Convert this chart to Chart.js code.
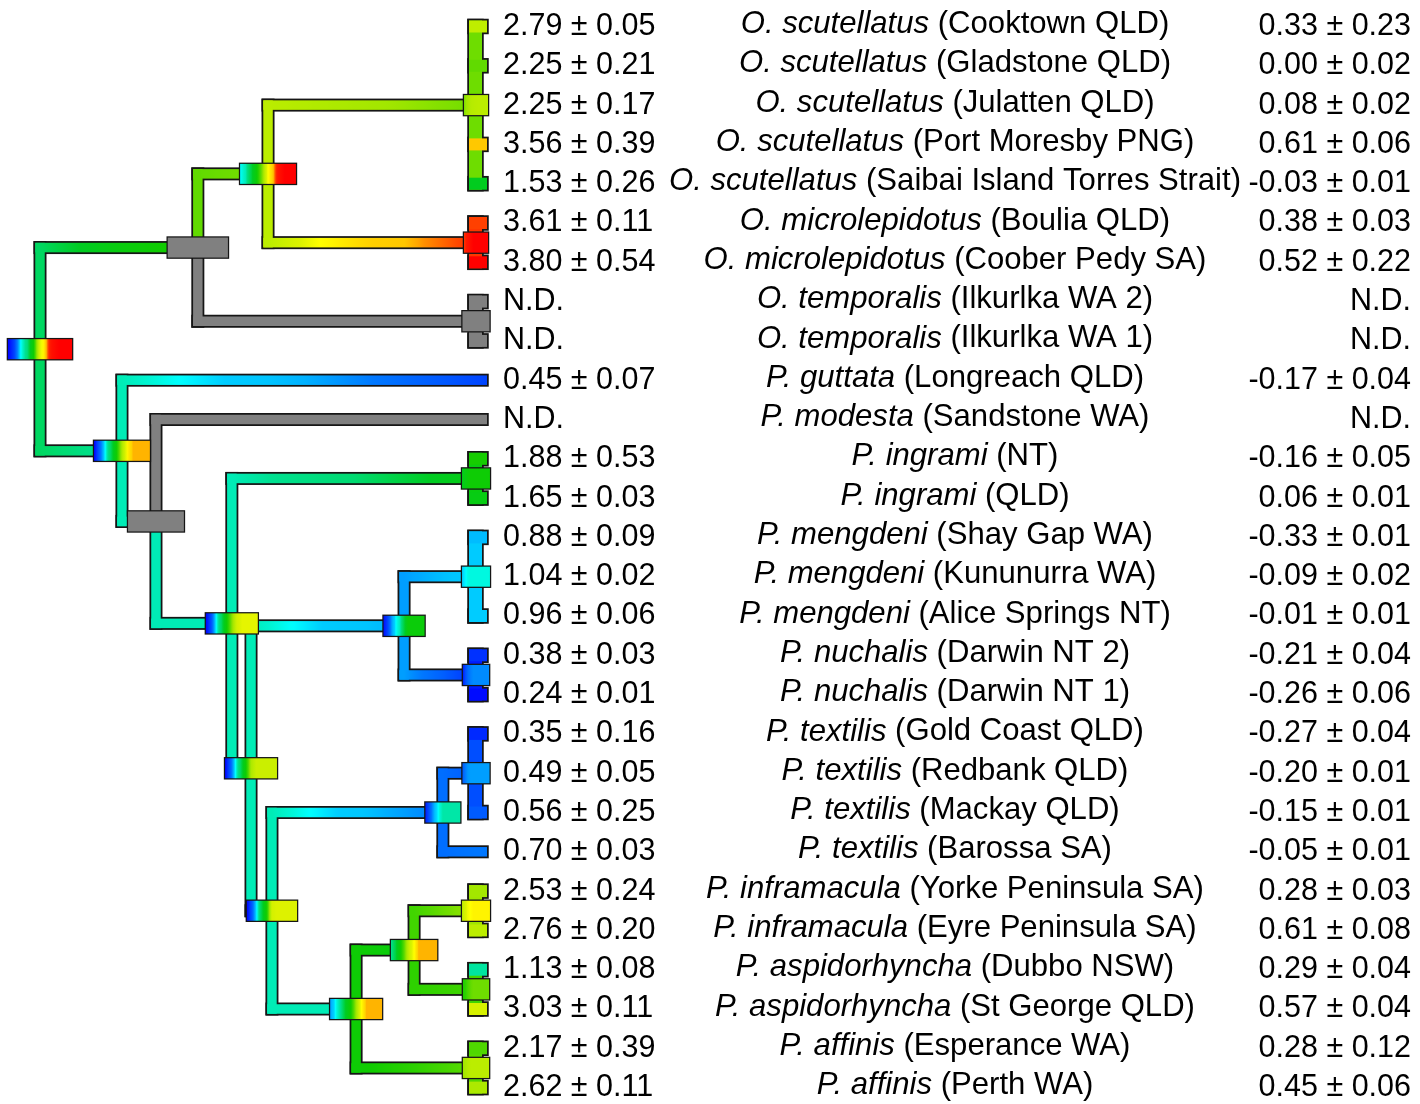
<!DOCTYPE html>
<html>
<head>
<meta charset="utf-8">
<title>Ancestral state tree</title>
<script src="https://cdn.jsdelivr.net/npm/chart.js@4"></script>
<style>
  html, body { margin: 0; padding: 0; background: #fff; }
  #wrap { width: 1420px; height: 1104px; }
</style>
</head>
<body>
<div id="wrap"><canvas id="treeChart" width="1420" height="1104"></canvas></div>
<script>

// DATA (one entry per row, top to bottom)

const species = [
    "O. scutellatus", "O. scutellatus", "O. scutellatus", "O. scutellatus", "O. scutellatus",
    "O. microlepidotus", "O. microlepidotus", "O. temporalis", "O. temporalis",
    "P. guttata", "P. modesta", "P. ingrami", "P. ingrami",
    "P. mengdeni", "P. mengdeni", "P. mengdeni", "P. nuchalis", "P. nuchalis",
    "P. textilis", "P. textilis", "P. textilis", "P. textilis",
    "P. inframacula", "P. inframacula", "P. aspidorhyncha", "P. aspidorhyncha",
    "P. affinis", "P. affinis"
];
const localities = [
    "Cooktown QLD", "Gladstone QLD", "Julatten QLD", "Port Moresby PNG", "Saibai Island Torres Strait",
    "Boulia QLD", "Coober Pedy SA", "Ilkurlka WA 2", "Ilkurlka WA 1",
    "Longreach QLD", "Sandstone WA", "NT", "QLD",
    "Shay Gap WA", "Kununurra WA", "Alice Springs NT", "Darwin NT 2", "Darwin NT 1",
    "Gold Coast QLD", "Redbank QLD", "Mackay QLD", "Barossa SA",
    "Yorke Peninsula SA", "Eyre Peninsula SA", "Dubbo NSW", "St George QLD",
    "Esperance WA", "Perth WA"
];
const traitMean = [2.79, 2.25, 2.25, 3.56, 1.53, 3.61, 3.80, null, null, 0.45, null, 1.88, 1.65,
    0.88, 1.04, 0.96, 0.38, 0.24, 0.35, 0.49, 0.56, 0.70, 2.53, 2.76, 1.13, 3.03, 2.17, 2.62];
const traitSE = [0.05, 0.21, 0.17, 0.39, 0.26, 0.11, 0.54, null, null, 0.07, null, 0.53, 0.03,
    0.09, 0.02, 0.06, 0.03, 0.01, 0.16, 0.05, 0.25, 0.03, 0.24, 0.20, 0.08, 0.11, 0.39, 0.11];
const otherMean = [0.33, 0.00, 0.08, 0.61, -0.03, 0.38, 0.52, null, null, -0.17, null, -0.16, 0.06,
    -0.33, -0.09, -0.01, -0.21, -0.26, -0.27, -0.20, -0.15, -0.05, 0.28, 0.61, 0.29, 0.57, 0.28, 0.45];
const otherSE = [0.23, 0.02, 0.02, 0.06, 0.01, 0.03, 0.22, null, null, 0.04, null, 0.05, 0.01,
    0.01, 0.02, 0.01, 0.04, 0.06, 0.04, 0.01, 0.01, 0.01, 0.03, 0.08, 0.04, 0.04, 0.12, 0.06];


// TREE (index = node; root first)
// 0 root, 1 Oxyuranus, 2 scut+micro, 3 scut, 4 micro, 5 temp, 6 Pseudechis, 7 guttata,
// 8 rest, 9 modesta, 10 A, 11 ingrami, 12 C, 13 meng+nuch, 14 meng, 15 nuch,
// 16 D, 17 textilis grp, 18 textilis, 19 Barossa, 20 southern, 21 infra+aspid,
// 22 infra, 23 aspid, 24 affinis

const nodeParent = [-1, 0, 1, 2, 2, 1, 0, 6, 6, 8, 8, 10, 10, 12, 13, 13, 12, 16, 17, 17, 16, 20, 21, 21, 20];
const nodeDepth = [0, 0.362, 0.523, 1, 1, 1, 0.188, 1, 0.266, 1, 0.440, 1, 0.484, 0.835, 1, 1,
    0.532, 0.924, 1, 1, 0.725, 0.858, 1, 1, 1];
const nodeTipFirst = [null, null, null, 0, 5, 7, null, 9, null, 10, null, 11, null, null, 13, 16,
    null, null, 18, 21, null, null, 22, 24, 26];
const nodeTipLast = [null, null, null, 4, 6, 8, null, 9, null, 10, null, 12, null, null, 15, 17,
    null, null, 20, 21, null, null, 23, 25, 27];
// width of the node interval, in depth units (null = no box)
const nodeSpan = [0.147, 0.138, 0.128, 0.055, 0.055, 0.062, 0.128, null, 0.128, null, 0.119, 0.064,
    0.119, 0.094, 0.064, 0.06, 0.115, 0.080, 0.062, null, 0.119, 0.106, 0.064, 0.06, 0.06];
// sorted posterior samples of the node state (null = not determined)
const nodeQuantiles = [
    [0.2, 0.45, 1.02, 1.2, 1.8, 3.1, 3.57, 3.72, 3.8, 3.8, 3.8],
    null,
    [1.02, 1.1, 1.4, 1.8, 2.4, 3.3, 3.57, 3.7, 3.8, 3.8, 3.8],
    [2.35, 2.5, 2.6, 2.7, 2.72, 2.74, 2.75, 2.75, 2.75, 2.75, 2.75],
    [3.62, 3.65, 3.7, 3.75, 3.8, 3.8, 3.8, 3.8, 3.8, 3.8, 3.8],
    null,
    [0.2, 0.6, 1.02, 1.3, 1.8, 2.6, 3.35, 3.57, 3.57, 3.57, 3.57],
    null,
    null,
    null,
    [0.2, 0.5, 1.02, 1.3, 1.8, 2.4, 3.0, 3.15, 3.15, 3.15, 3.15],
    [1.55, 1.65, 1.75, 1.8, 1.8, 1.8, 1.8, 1.8, 1.8, 1.8, 1.8],
    [0.2, 0.55, 1.02, 1.3, 1.8, 2.6, 2.9, 2.9, 2.9, 2.9, 2.9],
    [0.25, 0.45, 0.8, 1.02, 1.1, 1.4, 1.75, 1.75, 1.75, 1.75, 1.75],
    [0.96, 1.0, 1.04, 1.05, 1.05, 1.05, 1.05, 1.05, 1.05, 1.05, 1.05],
    [0.3, 0.5, 0.65, 0.72, 0.75, 0.75, 0.75, 0.75, 0.75, 0.75, 0.75],
    [0.2, 0.55, 1.02, 1.4, 1.9, 3.0, 3.1, 3.1, 3.1, 3.1, 3.1],
    [0.3, 0.5, 0.75, 0.95, 1.05, 1.12, 1.12, 1.12, 1.12, 1.12, 1.12],
    [0.55, 0.7, 0.78, 0.8, 0.8, 0.8, 0.8, 0.8, 0.8, 0.8, 0.8],
    null,
    [0.8, 1.02, 1.15, 1.5, 1.85, 2.5, 3.3, 3.57, 3.57, 3.57, 3.57],
    [1.15, 1.4, 1.8, 2.3, 2.9, 3.3, 3.57, 3.57, 3.57, 3.57, 3.57],
    [2.8, 3.0, 3.2, 3.3, 3.35, 3.35, 3.35, 3.35, 3.35, 3.35, 3.35],
    [1.9, 2.0, 2.15, 2.25, 2.3, 2.3, 2.3, 2.3, 2.3, 2.3, 2.3],
    [2.5, 2.6, 2.7, 2.75, 2.75, 2.75, 2.75, 2.75, 2.75, 2.75, 2.75]
];
// state along the branch leading to each node, evenly spaced from start to end
const branchValues = [
    null, [1.3, 1.7, 1.95], [2.25, 2.3, 2.35], [2.75, 2.55, 2.3], [2.75, 3.3, 3.52, 3.585, 3.62], null,
    [1.3, 1.2, 1.12], [1.1, 0.85, 0.45], [1.1, 1.1, 1.1], null, [1.1, 1.1, 1.1], [1.1, 1.25, 1.65],
    [1.1, 1.1, 1.1], [1.1, 0.95, 0.85], [0.8, 0.88, 0.95], [0.8, 0.6, 0.35],
    [1.1, 1.1, 1.1], [1.1, 0.92, 0.7], [0.65, 0.6, 0.55], [0.65, 0.68, 0.7],
    [1.1, 1.1, 1.1], [1.8, 1.75, 1.7], [2.1, 2.3, 2.5], [2.0, 2.05, 2.1], [1.8, 2.0, 2.25]
];
// state shown on the bar joining the populations of a clade
const cladeBarValue = [null, null, null, 2.3, 3.62, null, null, null, null, null, null, 1.7,
    null, null, 0.95, 0.3, null, null, 0.5, null, null, null, 2.5, 2.1, 2.2];

// colour scale
const scaleValues = [0.20, 0.45, 0.70, 0.90, 0.96, 1.02, 1.06, 1.15, 1.50, 1.85, 2.20, 2.50,
    2.80, 3.10, 3.30, 3.45, 3.56, 3.58, 3.61, 3.65, 3.80];
const scaleColors = ["#0000ff", "#0044ff", "#0078ff", "#00c4ff", "#00ccff", "#00ffff", "#00f5d5",
    "#00e090", "#00cc22", "#10cc00", "#55d800", "#a0e600", "#c0ee00", "#ddf200", "#ffff00",
    "#ffdd00", "#ffc800", "#ffa000", "#ff4000", "#ff1800", "#ff0000"];
const GREY = "#808080";


// COLOUR HELPERS

function hexToRgb(h) {
    return [parseInt(h.slice(1, 3), 16), parseInt(h.slice(3, 5), 16), parseInt(h.slice(5, 7), 16)];
}

function colourFor(v) {
    if (v === null || v === undefined) return GREY;
    if (v <= scaleValues[0]) return scaleColors[0];
    for (let i = 1; i < scaleValues.length; i++) {
        if (v <= scaleValues[i]) {
            const f = (v - scaleValues[i - 1]) / (scaleValues[i] - scaleValues[i - 1]);
            const a = hexToRgb(scaleColors[i - 1]);
            const b = hexToRgb(scaleColors[i]);
            const c = a.map((x, k) => Math.round(x + (b[k] - x) * f));
            return `rgb(${c[0]},${c[1]},${c[2]})`;
        }
    }
    return scaleColors[scaleColors.length - 1];
}

// value at fraction f along an evenly spaced list
function along(vals, f) {
    const n = vals.length - 1;
    const k = Math.min(Math.floor(f * n), n - 1);
    const t = f * n - k;
    return vals[k] + (vals[k + 1] - vals[k]) * t;
}


// LAYOUT (row of each node)

const children = nodeParent.map(() => []);
nodeParent.forEach((p, i) => { if (p >= 0) children[p].push(i); });

const nodeRow = [];
function rowOf(i) {
    if (nodeRow[i] !== undefined) return nodeRow[i];
    let r;
    if (nodeTipFirst[i] !== null) {
        r = (nodeTipFirst[i] + nodeTipLast[i]) / 2;
    } else {
        const rs = children[i].map(rowOf);
        r = (Math.min(...rs) + Math.max(...rs)) / 2;
    }
    nodeRow[i] = r;
    return r;
}
nodeParent.forEach((p, i) => rowOf(i));


// DRAWING PLUGIN

const HW = 4.75;          // half width of a branch
const OUTLINE = 3.5;
const BOX_H = 20;
const TIP_EXT = 11;       // notch sticks out right of the clade bar
const FONT = '"Liberation Sans", Arial, sans-serif';
const FONT_PX = 30.5;
const NAME_PX = 31.1;
const COL_VALUE_X = 503;
const COL_NAME_X = 955;
const COL_OTHER_X = 1411;

const treePlugin = {
    id: "treePlugin",
    afterDatasetsDraw(chart) {
        const ctx = chart.ctx;
        const X = v => chart.scales.x.getPixelForValue(v);
        const Y = v => chart.scales.y.getPixelForValue(v);
        ctx.save();

        // branches
        const rects = [];
        nodeParent.forEach((p, i) => {
            if (p < 0) return;
            const px = X(nodeDepth[p]), py = Y(nodeRow[p]);
            const cx = X(nodeDepth[i]), cy = Y(nodeRow[i]);
            const single = nodeTipFirst[i] !== null && nodeTipFirst[i] === nodeTipLast[i];
            const endX = single ? cx + TIP_EXT : cx;
            const vals = branchValues[i];
            const top = Math.min(py, cy) - HW, bottom = Math.max(py, cy) + HW;
            rects.push({ x: px - HW, y: top, w: 2 * HW, h: bottom - top, fill: vals ? colourFor(vals[0]) : GREY });

            let hFill = GREY;
            if (vals) {
                hFill = ctx.createLinearGradient(px, 0, endX, 0);
                for (let k = 0; k <= 32; k++) {
                    const f = k / 32;
                    hFill.addColorStop(f, colourFor(along(vals, f)));
                }
            }
            rects.push({ x: px - HW, y: cy - HW, w: endX - px + HW, h: 2 * HW, fill: hFill });
        });

        ctx.strokeStyle = "#161616";
        ctx.lineWidth = OUTLINE;
        ctx.lineJoin = "miter";
        rects.forEach(r => ctx.strokeRect(r.x, r.y, r.w, r.h));
        rects.forEach(r => { ctx.fillStyle = r.fill; ctx.fillRect(r.x, r.y, r.w, r.h); });

        // clades of populations: bar + one notch per population
        nodeParent.forEach((p, i) => {
            if (nodeTipFirst[i] === null || nodeTipFirst[i] === nodeTipLast[i]) return;
            const cx = X(nodeDepth[i]);
            const parts = [];
            const y0 = Y(nodeTipFirst[i]) - 6, y1 = Y(nodeTipLast[i]) + 6;
            parts.push({ x: cx - 7, y: y0, w: 13, h: y1 - y0, fill: colourFor(cladeBarValue[i]) });
            for (let r = nodeTipFirst[i]; r <= nodeTipLast[i]; r++) {
                parts.push({ x: cx - 7, y: Y(r) - 6, w: 7 + TIP_EXT, h: 12, fill: colourFor(traitMean[r]) });
            }
            parts.forEach(r => ctx.strokeRect(r.x, r.y, r.w, r.h));
            parts.forEach(r => { ctx.fillStyle = r.fill; ctx.fillRect(r.x, r.y, r.w, r.h); });
        });

        // node boxes
        nodeParent.forEach((p, i) => {
            if (nodeSpan[i] === null) return;
            const x0 = X(nodeDepth[i] - nodeSpan[i] / 2), x1 = X(nodeDepth[i] + nodeSpan[i] / 2);
            const yc = Y(nodeRow[i]);
            const q = nodeQuantiles[i];
            let fill = GREY;
            if (q) {
                fill = ctx.createLinearGradient(x0, 0, x1, 0);
                for (let k = 0; k <= 40; k++) {
                    fill.addColorStop(k / 40, colourFor(along(q, k / 40)));
                }
            }
            ctx.lineWidth = 2.5;
            ctx.strokeRect(x0, yc - BOX_H / 2, x1 - x0, BOX_H);
            ctx.fillStyle = fill;
            ctx.fillRect(x0, yc - BOX_H / 2, x1 - x0, BOX_H);
        });

        // text columns
        ctx.fillStyle = "#000";
        ctx.textBaseline = "middle";
        const fmt = (m, s) => m === null ? "N.D." : `${m.toFixed(2)} ± ${s.toFixed(2)}`;
        species.forEach((sp, r) => {
            const y = Y(r);
            ctx.font = `${FONT_PX}px ${FONT}`;
            ctx.textAlign = "left";
            ctx.fillText(fmt(traitMean[r], traitSE[r]), COL_VALUE_X, y);
            ctx.textAlign = "right";
            ctx.fillText(fmt(otherMean[r], otherSE[r]), COL_OTHER_X, y);

            const rest = ` (${localities[r]})`;
            ctx.textAlign = "left";
            ctx.font = `italic ${NAME_PX}px ${FONT}`;
            const wi = ctx.measureText(sp).width;
            ctx.font = `${NAME_PX}px ${FONT}`;
            const wr = ctx.measureText(rest).width;
            const start = COL_NAME_X - (wi + wr) / 2;
            ctx.font = `italic ${NAME_PX}px ${FONT}`;
            ctx.fillText(sp, start, y - 2);
            ctx.font = `${NAME_PX}px ${FONT}`;
            ctx.fillText(rest, start + wi, y - 2);
        });

        ctx.restore();
    }
};


// CHART

const ROW_PX = 39.3, ROW0_PX = 26.5, H = 1104;
const TIP_PX = 476, ROOT_PX = 40, W = 1420;
const xRange = W / (TIP_PX - ROOT_PX);
const xMin = -ROOT_PX / (TIP_PX - ROOT_PX);

const ctx = document.getElementById("treeChart").getContext("2d");
new Chart(ctx, {
    type: "scatter",
    data: {
        datasets: [{
            data: nodeDepth.map((d, i) => ({ x: d, y: nodeRow[i] })),
            pointRadius: 0
        }]
    },
    options: {
        responsive: false,
        animation: false,
        layout: { padding: 0 },
        plugins: { legend: { display: false }, tooltip: { enabled: false } },
        scales: {
            x: { type: "linear", display: false, min: xMin, max: xMin + xRange },
            y: { type: "linear", display: false, reverse: true,
                 min: -ROW0_PX / ROW_PX, max: (H - ROW0_PX) / ROW_PX }
        }
    },
    plugins: [treePlugin]
});
</script>
</body>
</html>
